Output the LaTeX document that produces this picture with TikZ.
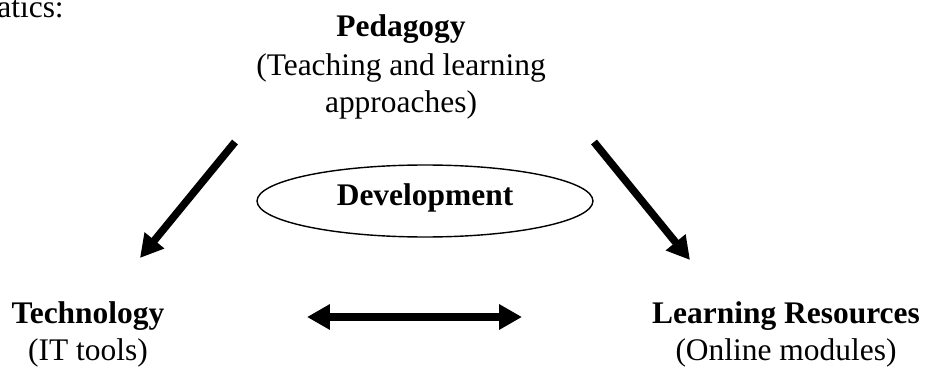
\documentclass[tikz,border=0pt]{standalone}
\usepackage{fontspec}
\setmainfont{Liberation Serif}
\usetikzlibrary{arrows.meta,positioning,shapes.geometric}
\begin{document}
\begin{tikzpicture}[
 x=0.02cm, y=-0.02cm,
 font=\fontsize{17.9}{21.3}\selectfont,
 ttl/.style={font=\fontsize{17.9}{21.3}\selectfont\bfseries, inner sep=0pt, anchor=base},
 sub/.style={align=center, inner sep=0pt, anchor=base},
 fat/.style={line width=4.3pt, -{Triangle[length=13pt,width=13.7pt]}},
 dbl/.style={line width=5pt, {Triangle[length=13pt,width=13.7pt]}-{Triangle[length=13pt,width=13.7pt]}},
 oval/.style={ellipse, draw, line width=0.8pt, minimum width=6.72cm, minimum height=1.44cm,
 inner sep=0pt, text depth=0.27cm},
]
\useasboundingbox (0,0) rectangle (925,371);
% heading text cut by the page
\node[inner sep=0pt, anchor=base west] (cut) at (-3,18) {atics:};
% the three corners
\node[ttl] (ped) at (401,37) {Pedagogy};
\node[sub] (pedsub) at (401,113) {(Teaching and learning\\approaches)};
\node[ttl] (tech) at (88,323) {Technology};
\node[sub] (techsub) at (88,360) {(IT tools)};
\node[ttl] (res) at (786,323) {Learning Resources};
\node[sub] (ressub) at (786,360) {(Online modules)};
% centre
\node[oval, font=\fontsize{17.9}{21.3}\selectfont\bfseries] (dev) at (425,201) {Development};
% arrow ends
\coordinate (l1) at (235,142);
\coordinate (l2) at (140,258);
\coordinate (r1) at (594,142);
\coordinate (r2) at (690,260);
\coordinate (h1) at (307,317);
\coordinate (h2) at (522,317);
\draw[fat] (l1) -- (l2);
\draw[fat] (r1) -- (r2);
\draw[dbl] (h1) -- (h2);
\end{tikzpicture}
\end{document}
